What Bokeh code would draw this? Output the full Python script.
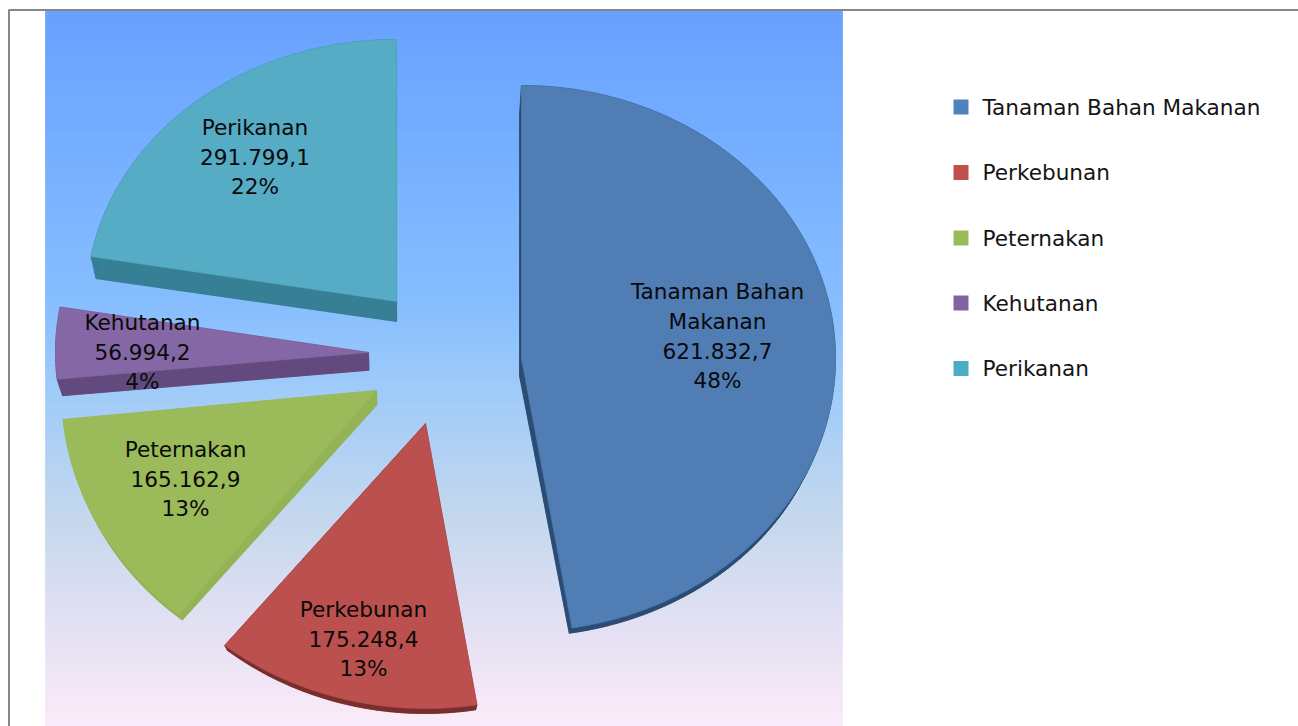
import math
from bokeh.plotting import figure
from bokeh.models import Range1d
from bokeh.core.properties import value
from bokeh.embed import file_html
from bokeh.resources import INLINE

# ---- data ----
categories = ["Tanaman Bahan Makanan", "Perkebunan", "Peternakan", "Kehutanan", "Perikanan"]
values = [621832.7, 175248.4, 165162.9, 56994.2, 291799.1]
percent_labels = ["48%", "13%", "13%", "4%", "22%"]
name_lines = [["Tanaman Bahan", "Makanan"], ["Perkebunan"], ["Peternakan"], ["Kehutanan"], ["Perikanan"]]

# ---- style / layout (page pixels) ----
face_colors = ["#4f7db4", "#bb504e", "#9bba59", "#8567a5", "#55acc4"]
side_colors = ["#2b4c74", "#7a2e2c", "#94b355", "#634a7e", "#367f95"]
legend_colors = ["#4f81bd", "#c0504d", "#9bbb59", "#8064a2", "#4bacc6"]
apex_x = [521, 425, 376, 368, 396]
apex_y = [358, 423, 390, 352, 301]
radius_x = [314, 320, 315, 313, 310]
radius_y = [273, 285, 288, 265, 262]
label_x = [717, 363, 185, 142, 254.5]
label_y = [291, 609, 449, 322, 127]
LINE = 29.6
FONT = value("DejaVu Sans")
SIZE = "21.6px"

W, H = 1298, 726
X0, Y0 = 0, 0
p = figure(width=W, height=H, x_range=Range1d(X0, X0 + W), y_range=Range1d(Y0 + H, Y0),
           toolbar_location=None, output_backend="svg", min_border=0,
           background_fill_color="white", border_fill_color="white")
p.axis.visible = False
p.grid.visible = False
p.outline_line_color = None

# gradient panel behind the pie
stops = [(10, (94, 155, 255)), (300, (126, 185, 255)), (400, (156, 201, 247)),
         (520, (193, 213, 236)), (620, (224, 222, 242)), (726, (251, 233, 248))]
def grad(y):
    for (y0, c0), (y1, c1) in zip(stops, stops[1:]):
        if y <= y1:
            t = (y - y0) / (y1 - y0)
            return "#%02x%02x%02x" % tuple(round(a + (b - a) * t) for a, b in zip(c0, c1))
    return "#%02x%02x%02x" % stops[-1][1]
rows = list(range(10, Y0 + H))
p.quad(left=45, right=842, top=rows, bottom=[r + 1 for r in rows],
       fill_color=[grad(r) for r in rows], line_color=[grad(r) for r in rows], line_width=0.5)

# chart frame
p.line([8.5, 8.5, X0 + W], [Y0 + H, 9.5, 9.5], line_color="#868686", line_width=2)

# slices
total = sum(values)
def down(i, x, y):
    depth = max(5.0, 0.045 * (745 - y))
    if i == 2:
        depth *= 0.9
    return x + 0.016 * (400 - x), y + depth

start = 0.0
for i, v in enumerate(values):
    sweep = 360.0 * v / total
    n = max(2, int(sweep))
    xs, ys = [apex_x[i]], [apex_y[i]]
    for k in range(n + 1):
        a = math.radians(start + sweep * k / n)
        xs.append(apex_x[i] + radius_x[i] * math.sin(a))
        ys.append(apex_y[i] - radius_y[i] * math.cos(a))
    bx, by = zip(*[down(i, x, y) for x, y in zip(xs, ys)])
    qx, qy = [], []
    m = len(xs)
    for j in range(m):
        j2 = (j + 1) % m
        qx.append([xs[j], xs[j2], bx[j2], bx[j]])
        qy.append([ys[j], ys[j2], by[j2], by[j]])
    p.patches(qx, qy, fill_color=side_colors[i], line_color=side_colors[i], line_width=0.6)
    p.patch(list(bx), list(by), fill_color=side_colors[i], line_color=side_colors[i], line_width=0.6)
    p.patch(xs, ys, fill_color=face_colors[i], line_color=face_colors[i], line_width=0.6)
    start += sweep

# data labels
for i, v in enumerate(values):
    num = f"{v:,.1f}".replace(",", "X").replace(".", ",").replace("X", ".")
    lines = name_lines[i] + [num, percent_labels[i]]
    p.text(x=[label_x[i]] * len(lines), y=[label_y[i] + LINE * k for k in range(len(lines))],
           text=lines, text_font=FONT, text_font_size=SIZE, text_color="#0a0a0a",
           text_align="center", text_baseline="middle")

# legend
legend_y = [106.5, 172, 237.5, 302.5, 368]
p.quad(left=[953] * 5, right=[968] * 5,
       top=[y - 7.5 for y in legend_y], bottom=[y + 7.5 for y in legend_y],
       fill_color=legend_colors, line_color=None)
p.text(x=[982] * 5, y=legend_y, text=categories, text_font=FONT, text_font_size=SIZE,
       text_color="#151515", text_align="left", text_baseline="middle")

open("out.html", "w").write(file_html(p, INLINE))
